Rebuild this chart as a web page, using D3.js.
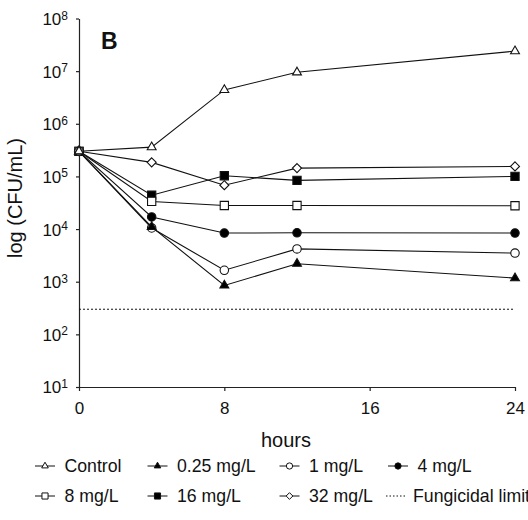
<!DOCTYPE html>
<html>
<head>
<meta charset="utf-8">
<script src="https://cdn.jsdelivr.net/npm/d3@7"></script>
<style>
  body { margin: 0; background: #fff; }
  svg { display: block; font-family: "Liberation Sans", Arial, Helvetica, sans-serif; }
</style>
</head>
<body>
<div id="container"></div>
<script>
// time points (hours)
let hours = [0, 4, 8, 12, 24];

// CFU/mL per treatment
let control = [3.0e5, 3.6e5, 4.4e6, 9.5e6, 2.4e7];
let mg025   = [3.0e5, 1.1e4, 850, 2.2e3, 1.17e3];
let mg1     = [3.0e5, 1.05e4, 1.65e3, 4.2e3, 3.5e3];
let mg4     = [3.0e5, 1.7e4, 8.4e3, 8.5e3, 8.4e3];
let mg8     = [3.0e5, 3.35e4, 2.8e4, 2.8e4, 2.77e4];
let mg16    = [3.0e5, 4.4e4, 1.03e5, 8.4e4, 1.0e5];
let mg32    = [3.0e5, 1.85e5, 6.8e4, 1.44e5, 1.55e5];
let fungicidalLimit = 300;

let xTicks = [0, 8, 16, 24];
let yTicks = [1e1, 1e2, 1e3, 1e4, 1e5, 1e6, 1e7, 1e8];

let series = [
    {name: "Control",   values: control, shape: d3.symbolTriangle, fill: "white"},
    {name: "0.25 mg/L", values: mg025,   shape: d3.symbolTriangle, fill: "black"},
    {name: "1 mg/L",    values: mg1,     shape: d3.symbolCircle,   fill: "white"},
    {name: "4 mg/L",    values: mg4,     shape: d3.symbolCircle,   fill: "black"},
    {name: "8 mg/L",    values: mg8,     shape: d3.symbolSquare,   fill: "white"},
    {name: "16 mg/L",   values: mg16,    shape: d3.symbolSquare,   fill: "black"},
    {name: "32 mg/L",   values: mg32,    shape: d3.symbolDiamond2, fill: "white"}
];

let width = 528, height = 520;

let svg = d3.select("#container").append("svg")
    .attr("width", width)
    .attr("height", height);

let x = d3.scaleLinear().domain([0, 24]).range([79, 515]);
let y = d3.scaleLog().domain([1e1, 1e8]).range([387, 18.5]);

// symbol sizes (area) per shape
function symSize(shape, big) {
    let k = big ? 1 : 0.55;
    if (shape === d3.symbolTriangle) return 34 * k;
    if (shape === d3.symbolCircle) return 56 * k;
    if (shape === d3.symbolSquare) return 68 * k;
    return 52 * k;
}

// axes
let xAxis = svg.append("g")
    .attr("transform", "translate(0," + y(1e1) + ")")
    .call(d3.axisBottom(x).tickValues(xTicks).tickSize(4).tickSizeOuter(0).tickPadding(11));

let yAxis = svg.append("g")
    .attr("transform", "translate(" + x(0) + ",0)")
    .call(d3.axisLeft(y).tickValues(yTicks).tickSize(3).tickSizeOuter(0).tickPadding(8).tickFormat(""));

[xAxis, yAxis].forEach(function(a) {
    a.select(".domain").attr("stroke", "#222").attr("stroke-width", 1.2);
    a.selectAll(".tick line").attr("stroke", "#222").attr("stroke-width", 1.2);
});

xAxis.selectAll("text")
    .attr("font-size", 17)
    .attr("font-family", "Liberation Sans, Arial, sans-serif")
    .attr("fill", "#111");

// y tick labels as 10 with superscript exponent
yAxis.selectAll(".tick").each(function(d) {
    let t = d3.select(this).select("text")
        .attr("font-size", 17)
        .attr("font-family", "Liberation Sans, Arial, sans-serif")
        .attr("fill", "#111")
        .attr("x", -11)
        .attr("dy", "0.35em")
        .text(null);
    t.append("tspan").text("10");
    t.append("tspan")
        .attr("font-size", 12)
        .attr("dy", "-0.45em")
        .text(Math.round(Math.log10(d)));
});

// fungicidal limit
svg.append("line")
    .attr("x1", x(0))
    .attr("x2", x(24))
    .attr("y1", y(fungicidalLimit))
    .attr("y2", y(fungicidalLimit))
    .attr("stroke", "#111")
    .attr("stroke-width", 1)
    .attr("stroke-dasharray", "2,2");

let line = d3.line()
    .x(function(d, i) { return x(hours[i]); })
    .y(function(d) { return y(d); });

// draw in reverse so Control ends on top
let groups = svg.selectAll(".series")
    .data(series.slice().reverse())
    .enter().append("g")
    .attr("class", "series");

groups.append("path")
    .attr("d", function(d) { return line(d.values); })
    .attr("fill", "none")
    .attr("stroke", "#111")
    .attr("stroke-width", 1.1);

groups.each(function(s) {
    d3.select(this).selectAll(".pt")
        .data(s.values)
        .enter().append("path")
        .attr("class", "pt")
        .attr("transform", function(d, i) { return "translate(" + x(hours[i]) + "," + y(d) + ")"; })
        .attr("d", d3.symbol().type(s.shape).size(symSize(s.shape, true)))
        .attr("fill", s.fill)
        .attr("stroke", "#111")
        .attr("stroke-width", 1.1);
});

// panel letter
svg.append("text")
    .attr("x", 101)
    .attr("y", 49)
    .attr("font-size", 23)
    .attr("font-weight", "bold")
    .attr("fill", "#111")
    .text("B");

// axis titles
svg.append("text")
    .attr("x", 286)
    .attr("y", 447)
    .attr("text-anchor", "middle")
    .attr("font-size", 20)
    .attr("fill", "#111")
    .text("hours");

svg.append("text")
    .attr("transform", "translate(22,198) rotate(-90)")
    .attr("text-anchor", "middle")
    .attr("font-size", 20)
    .attr("fill", "#111")
    .text("log (CFU/mL)");

// legend
let legendPos = [
    [45, 466], [157.5, 466], [289.5, 466], [398, 466],
    [45, 496], [157.5, 496], [289.5, 496]
];

let legend = svg.append("g");

series.forEach(function(s, i) {
    let p = legendPos[i];
    let g = legend.append("g").attr("transform", "translate(" + p[0] + "," + p[1] + ")");
    g.append("line")
        .attr("x1", -10).attr("x2", 10)
        .attr("stroke", "#111").attr("stroke-width", 1);
    g.append("path")
        .attr("d", d3.symbol().type(s.shape).size(symSize(s.shape, false)))
        .attr("fill", s.fill)
        .attr("stroke", "#111")
        .attr("stroke-width", 1);
    g.append("text")
        .attr("x", 19.5)
        .attr("dy", "0.35em")
        .attr("font-size", 17.7)
        .attr("fill", "#111")
        .text(s.name);
});

let fl = legend.append("g").attr("transform", "translate(396,496)");
fl.append("line")
    .attr("x1", -10).attr("x2", 10)
    .attr("stroke", "#111").attr("stroke-width", 1)
    .attr("stroke-dasharray", "1.5,2");
fl.append("text")
    .attr("x", 17)
    .attr("dy", "0.35em")
    .attr("font-size", 17.7)
    .attr("fill", "#111")
    .text("Fungicidal limit");
</script>
</body>
</html>
